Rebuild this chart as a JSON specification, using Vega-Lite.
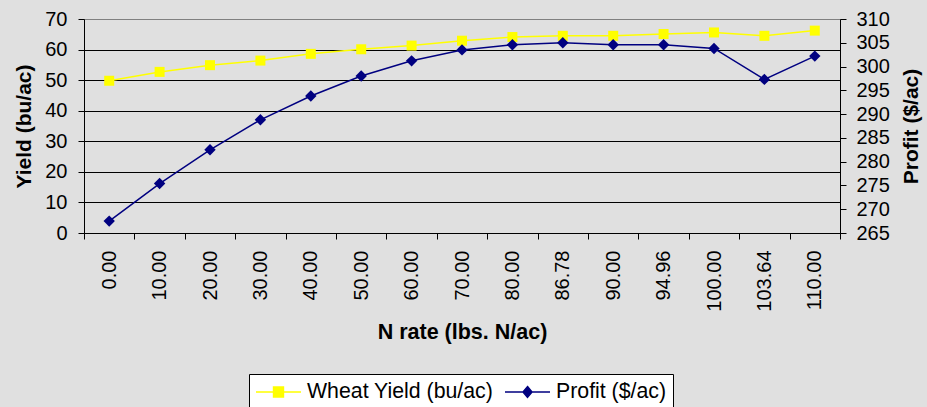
{
  "$schema": "https://vega.github.io/schema/vega-lite/v6.json",
  "width": 756,
  "height": 214,
  "autosize": {"type": "none"},
  "padding": {"left": 84, "top": 19, "right": 87, "bottom": 174},
  "background": "#e0e0e0",
  "data": {
    "values": [
      {"n": "0.00", "yield": 49.8, "profit": 267.5},
      {"n": "10.00", "yield": 52.7, "profit": 275.4},
      {"n": "20.00", "yield": 54.9, "profit": 282.5},
      {"n": "30.00", "yield": 56.4, "profit": 288.8},
      {"n": "40.00", "yield": 58.6, "profit": 293.8},
      {"n": "50.00", "yield": 60.1, "profit": 298.0},
      {"n": "60.00", "yield": 61.3, "profit": 301.2},
      {"n": "70.00", "yield": 62.9, "profit": 303.5},
      {"n": "80.00", "yield": 64.1, "profit": 304.6},
      {"n": "86.78", "yield": 64.5, "profit": 305.0},
      {"n": "90.00", "yield": 64.5, "profit": 304.6},
      {"n": "94.96", "yield": 65.1, "profit": 304.6},
      {"n": "100.00", "yield": 65.6, "profit": 303.8},
      {"n": "103.64", "yield": 64.5, "profit": 297.3},
      {"n": "110.00", "yield": 66.2, "profit": 302.2}
    ]
  },
  "encoding": {
    "x": {
      "field": "n",
      "type": "nominal",
      "sort": null,
      "bandPosition": 0.5,
      "scale": {"type": "band", "paddingInner": 0, "paddingOuter": 0},
      "axis": {
        "title": "N rate (lbs. N/ac)",
        "labelAngle": -90,
        "tickBand": "extent",
        "tickSize": 6,
        "labelPadding": 11,
        "titlePadding": 10,
        "titleFontSize": 21.5,
        "domainColor": "black",
        "tickColor": "black",
        "grid": false
      }
    }
  },
  "layer": [
    {
      "mark": {
        "type": "line",
        "strokeWidth": 1.5,
        "point": {"shape": "square", "size": 100, "filled": true, "opacity": 1}
      },
      "encoding": {
        "y": {
          "field": "yield",
          "type": "quantitative",
          "scale": {"domain": [0, 70], "nice": false, "zero": true},
          "axis": {
            "title": "Yield (bu/ac)",
            "values": [0, 10, 20, 30, 40, 50, 60, 70],
            "grid": true,
            "gridColor": {"condition": {"test": "datum.value === 70", "value": "#808080"}, "value": "black"},
            "gridOpacity": 1,
            "tickSize": 6,
            "labelPadding": 11,
            "titlePadding": 10,
            "domainColor": "black",
            "tickColor": "black"
          }
        },
        "color": {
          "datum": "Wheat Yield (bu/ac)",
          "type": "nominal",
          "scale": {"domain": ["Wheat Yield (bu/ac)", "Profit ($/ac)"], "range": ["#ffff00", "#000080"]},
          "legend": {
            "title": null,
            "orient": "none",
            "legendX": 165,
            "legendY": 355,
            "direction": "horizontal",
            "fillColor": "white",
            "strokeColor": "black",
            "padding": 6,
            "labelFont": "Liberation Sans",
            "labelFontSize": 21.3,
            "labelColor": "black",
            "labelLimit": 0,
            "symbolSize": 2025,
            "symbolStrokeWidth": 1.5,
            "labelOffset": 5,
            "columnPadding": 10,
            "clipHeight": 24,
            "encode": {
              "symbols": {
                "update": {
                  "shape": {"signal": "datum.value === 'Profit ($/ac)' ? 'M-1,0H1M0,-0.24L0.2,0L0,0.24L-0.2,0Z' : 'M-1,0H1M-0.22,-0.22H0.22V0.22H-0.22Z'"},
                  "fill": {"signal": "datum.value === 'Profit ($/ac)' ? '#000080' : '#ffff00'"},
                  "stroke": {"signal": "datum.value === 'Profit ($/ac)' ? '#000080' : '#ffff00'"},
                  "opacity": {"value": 1},
                  "fillOpacity": {"value": 1},
                  "strokeOpacity": {"value": 1}
                }
              }
            }
          }
        }
      }
    },
    {
      "mark": {
        "type": "line",
        "strokeWidth": 1.5,
        "point": {"shape": "diamond", "size": 130, "filled": true, "opacity": 1}
      },
      "encoding": {
        "y": {
          "field": "profit",
          "type": "quantitative",
          "scale": {"domain": [265, 310], "nice": false, "zero": false},
          "axis": {
            "title": "Profit ($/ac)",
            "orient": "right",
            "values": [265, 270, 275, 280, 285, 290, 295, 300, 305, 310],
            "grid": false,
            "tickSize": 6,
            "labelPadding": 10,
            "titlePadding": 11,
            "titleAngle": 270,
            "titleBaseline": "top",
            "domainColor": "black",
            "tickColor": "black"
          }
        },
        "color": {
          "datum": "Profit ($/ac)",
          "type": "nominal"
        }
      }
    }
  ],
  "resolve": {"scale": {"y": "independent"}},
  "config": {
    "view": {"stroke": "#808080"},
    "font": "Liberation Sans",
    "axis": {
      "labelFont": "Liberation Sans",
      "labelFontSize": 20,
      "labelColor": "black",
      "titleFont": "Liberation Sans",
      "titleFontSize": 21,
      "titleFontWeight": "bold",
      "titleColor": "black",
      "labelFlush": false,
      "labelOverlap": false
    }
  }
}
